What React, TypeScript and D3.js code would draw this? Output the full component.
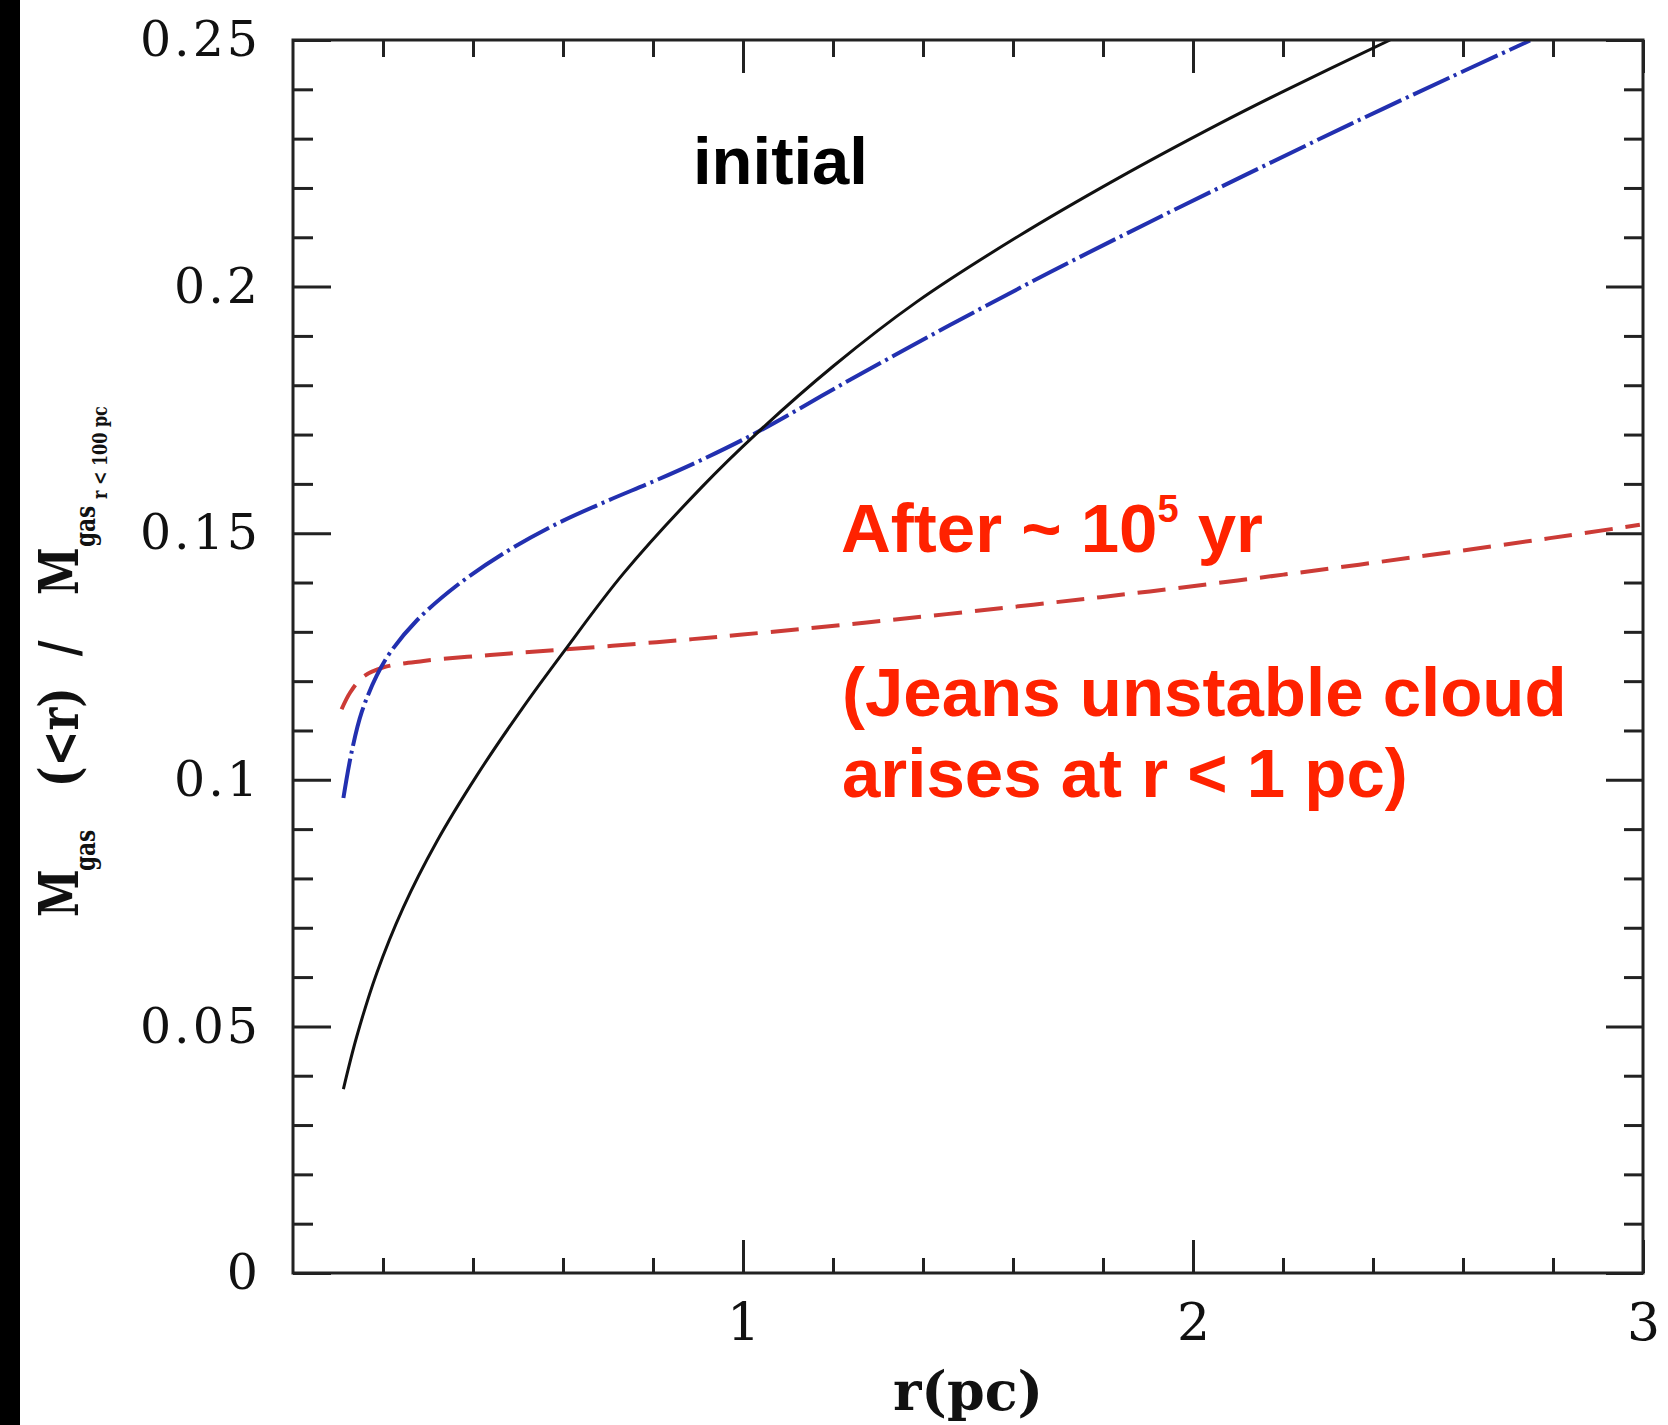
import React, { useEffect, useRef } from 'react';
import * as d3 from 'd3';

// initial profile (solid black)
const initialR = [0.112, 0.1415, 0.186, 0.245, 0.319, 0.408, 0.512, 0.601, 0.734, 0.91, 1.03, 1.201, 1.386, 1.608, 1.83, 2.06, 2.201, 2.438];
const initialM = [0.0373, 0.0479, 0.0608, 0.0741, 0.0874, 0.1008, 0.1148, 0.1259, 0.1418, 0.1595, 0.1702, 0.1839, 0.1969, 0.21, 0.2218, 0.2331, 0.2396, 0.25];

// intermediate profile (blue dash-dot)
const midR = [0.112, 0.13, 0.153, 0.186, 0.216, 0.275, 0.364, 0.475, 0.586, 0.697, 0.801, 0.904, 1.03, 1.238, 1.46, 1.682, 1.904, 2.127, 2.349, 2.571, 2.749];
const midM = [0.0963, 0.1055, 0.1138, 0.1211, 0.1258, 0.1323, 0.1394, 0.1463, 0.1519, 0.1565, 0.1605, 0.1647, 0.1704, 0.1811, 0.1922, 0.2029, 0.2131, 0.2231, 0.2329, 0.2424, 0.2499];

// after ~1e5 yr (red dashed)
const afterR = [0.108, 0.127, 0.156, 0.201, 0.29, 0.438, 0.586, 0.808, 0.993, 1.275, 1.645, 1.904, 2.201, 2.497, 2.793, 2.993];
const afterM = [0.1143, 0.1177, 0.1209, 0.1228, 0.1241, 0.1253, 0.1263, 0.1279, 0.1294, 0.1319, 0.1355, 0.1382, 0.1416, 0.1452, 0.149, 0.1517];

const yMajorTicks = [0, 0.05, 0.1, 0.15, 0.2, 0.25];
const yMinorTicks = [0.01, 0.02, 0.03, 0.04, 0.06, 0.07, 0.08, 0.09, 0.11, 0.12, 0.13, 0.14, 0.16, 0.17, 0.18, 0.19, 0.21, 0.22, 0.23, 0.24];
const xMajorTicks = [1, 2, 3];
const xMinorTicks = [0.2, 0.4, 0.6, 0.8, 1.2, 1.4, 1.6, 1.8, 2.2, 2.4, 2.6, 2.8];

const W = 1668;
const H = 1425;
const margin = { top: 40, right: 25, bottom: 152, left: 293 };
const serif = '"DejaVu Serif", "Liberation Serif", serif';
const sans = '"Liberation Sans", Arial, Helvetica, sans-serif';

const App = () => {
  const svgRef = useRef(null);

  useEffect(() => {
    const svg = d3.select(svgRef.current);
    svg.selectAll('*').remove();

    const width = W - margin.left - margin.right;
    const height = H - margin.top - margin.bottom;

    const x = d3.scaleLinear().domain([0, 3]).range([margin.left, margin.left + width]);
    const y = d3.scaleLinear().domain([0, 0.25]).range([margin.top + height, margin.top]);

    svg.append('rect').attr('width', W).attr('height', H).attr('fill', '#fff');
    // black strip on the left edge
    svg.append('rect').attr('x', 0).attr('y', 0).attr('width', 20).attr('height', H).attr('fill', '#000');

    const styleAxis = (g, labelSize, spacing = 0) => {
      g.select('.domain').remove();
      g.selectAll('.tick line').attr('stroke', '#222').attr('stroke-width', 3);
      g.selectAll('.tick text')
        .attr('font-family', serif).attr('font-size', labelSize).attr('fill', '#111')
        .attr('letter-spacing', spacing);
    };

    // left
    svg.append('g').attr('transform', `translate(${margin.left},0)`)
      .call(d3.axisLeft(y).tickValues(yMajorTicks).tickSize(-38).tickPadding(32).tickFormat((d) => String(d)))
      .call((g) => styleAxis(g, 49, 3));
    svg.append('g').attr('transform', `translate(${margin.left},0)`)
      .call(d3.axisLeft(y).tickValues(yMinorTicks).tickSize(-20).tickFormat(() => ''))
      .call((g) => styleAxis(g, 10));
    // right
    svg.append('g').attr('transform', `translate(${margin.left + width},0)`)
      .call(d3.axisRight(y).tickValues(yMajorTicks).tickSize(-37).tickFormat(() => ''))
      .call((g) => styleAxis(g, 10));
    svg.append('g').attr('transform', `translate(${margin.left + width},0)`)
      .call(d3.axisRight(y).tickValues(yMinorTicks).tickSize(-19).tickFormat(() => ''))
      .call((g) => styleAxis(g, 10));
    // bottom
    svg.append('g').attr('transform', `translate(0,${margin.top + height})`)
      .call(d3.axisBottom(x).tickValues(xMajorTicks).tickSize(-33).tickPadding(30).tickFormat((d) => String(d)))
      .call((g) => styleAxis(g, 52));
    svg.append('g').attr('transform', `translate(0,${margin.top + height})`)
      .call(d3.axisBottom(x).tickValues(xMinorTicks).tickSize(-15).tickFormat(() => ''))
      .call((g) => styleAxis(g, 10));
    // top
    svg.append('g').attr('transform', `translate(0,${margin.top})`)
      .call(d3.axisTop(x).tickValues(xMajorTicks).tickSize(-33).tickFormat(() => ''))
      .call((g) => styleAxis(g, 10));
    svg.append('g').attr('transform', `translate(0,${margin.top})`)
      .call(d3.axisTop(x).tickValues(xMinorTicks).tickSize(-17).tickFormat(() => ''))
      .call((g) => styleAxis(g, 10));

    // curves
    svg.append('clipPath').attr('id', 'plot-clip')
      .append('rect').attr('x', margin.left).attr('y', margin.top).attr('width', width).attr('height', height);

    const line = d3.line().x((d) => x(d[0])).y((d) => y(d[1])).curve(d3.curveCatmullRom.alpha(0.5));
    const plot = svg.append('g').attr('clip-path', 'url(#plot-clip)');

    plot.append('path')
      .attr('d', line(afterR.map((r, i) => [r, afterM[i]])))
      .attr('fill', 'none').attr('stroke', '#cc3b36').attr('stroke-width', 4)
      .attr('stroke-dasharray', '28,13');
    plot.append('path')
      .attr('d', line(midR.map((r, i) => [r, midM[i]])))
      .attr('fill', 'none').attr('stroke', '#2230b0').attr('stroke-width', 4)
      .attr('stroke-dasharray', '40,5,3,5');
    plot.append('path')
      .attr('d', line(initialR.map((r, i) => [r, initialM[i]])))
      .attr('fill', 'none').attr('stroke', '#111').attr('stroke-width', 3);

    // frame
    svg.append('rect')
      .attr('x', margin.left).attr('y', margin.top).attr('width', width).attr('height', height)
      .attr('fill', 'none').attr('stroke', '#222').attr('stroke-width', 3);

    // x axis title
    svg.append('text')
      .attr('x', margin.left + width / 2).attr('y', 1410)
      .attr('text-anchor', 'middle').attr('font-family', serif).attr('font-weight', 'bold')
      .attr('font-size', 54).attr('fill', '#111')
      .text('r(pc)');

    // y axis title, built from pieces
    const yt = svg.append('text')
      .attr('transform', 'translate(78,917) rotate(-90) scale(0.8,1)')
      .attr('font-family', serif).attr('font-weight', 'bold').attr('fill', '#111');
    yt.append('tspan').attr('x', 0).attr('y', 0).attr('font-size', 54).text('M');
    yt.append('tspan').attr('x', 57.5).attr('y', 17).attr('font-size', 27).text('gas');
    yt.append('tspan').attr('x', 162.5).attr('y', 0).attr('font-size', 54).text('(<r)');
    yt.append('tspan').attr('x', 326).attr('y', 0).attr('font-size', 54).text('/');
    yt.append('tspan').attr('x', 402.5).attr('y', 0).attr('font-size', 54).text('M');
    yt.append('tspan').attr('x', 462.5).attr('y', 17).attr('font-size', 27).text('gas');
    yt.append('tspan').attr('x', 522.5).attr('y', 29).attr('font-size', 20).text('r < 100 pc');

    // annotations
    svg.append('text')
      .attr('x', 693).attr('y', 184)
      .attr('font-family', sans).attr('font-weight', 'bold').attr('font-size', 67).attr('fill', '#000')
      .text('initial');

    const red = '#ff2200';
    const after = svg.append('text')
      .attr('x', 841).attr('y', 552)
      .attr('font-family', sans).attr('font-weight', 'bold').attr('font-size', 69).attr('fill', red);
    after.append('tspan').text('After ~ 10');
    after.append('tspan').attr('font-size', 38).attr('dy', -30).text('5');
    after.append('tspan').attr('dy', 30).text(' yr');

    svg.append('text')
      .attr('x', 842).attr('y', 716)
      .attr('font-family', sans).attr('font-weight', 'bold').attr('font-size', 69).attr('fill', red)
      .text('(Jeans unstable cloud');
    svg.append('text')
      .attr('x', 842).attr('y', 797)
      .attr('font-family', sans).attr('font-weight', 'bold').attr('font-size', 69).attr('fill', red)
      .text('arises at r < 1 pc)');
  }, []);

  return (
    <div style={{ position: 'absolute', left: 0, top: 0 }}>
      <svg ref={svgRef} width={W} height={H} style={{ display: 'block' }}></svg>
    </div>
  );
};

export default App;
